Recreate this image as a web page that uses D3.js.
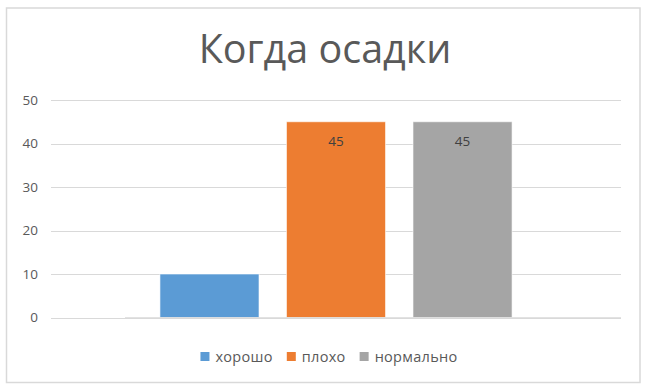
<!DOCTYPE html>
<html>
<head>
<meta charset="utf-8">
<script src="https://cdn.jsdelivr.net/npm/d3@7"></script>
<style>
  body { margin: 0; background: #fff; }
  text { font-family: "Open Sans", "Noto Sans", sans-serif; }
</style>
</head>
<body>
<div id="chart"></div>
<script>
// chart data
var title = "Когда осадки"
var seriesNames = ["хорошо", "плохо", "нормально"]
var seriesValues = [10, 45, 45]
var showLabel = [false, true, true]
var yTicks = [0, 10, 20, 30, 40, 50]
var colors = ["#5b9bd5", "#ed7d31", "#a5a5a5"]

var width = 650, height = 392
var plot = { left: 51, right: 621, top: 100, bottom: 317.5 }

var bars = seriesNames.map(function(name, i) {
  return { name: name, value: seriesValues[i], label: showLabel[i], color: colors[i] }
})

var svg = d3.select("#chart")
  .append("svg")
  .attr("width", width)
  .attr("height", height)

// chart frame
svg.append("rect")
  .attr("x", 6.5).attr("y", 8)
  .attr("width", 633.5).attr("height", 374.5)
  .attr("fill", "#fff")
  .attr("stroke", "#d9d9d9")
  .attr("stroke-width", 1.5)

var y = d3.scaleLinear()
  .domain([0, 50])
  .range([plot.bottom, plot.top])

var x = d3.scaleBand()
  .domain(seriesNames)
  .range([plot.left, plot.right])
  .paddingInner(0.217)
  .paddingOuter(0.861)

// gridlines
svg.append("g")
  .selectAll("line")
  .data(yTicks)
  .enter()
  .append("line")
  .attr("x1", plot.left)
  .attr("x2", plot.right)
  .attr("y1", function(d) { return Math.round(y(d)) + 0.5 })
  .attr("y2", function(d) { return Math.round(y(d)) + 0.5 })
  .attr("stroke", "#d9d9d9")
  .attr("stroke-width", 1)

// y axis labels
var yAxis = svg.append("g")
  .attr("transform", "translate(" + (plot.left - 13) + ",0)")
  .call(d3.axisLeft(y).tickValues(yTicks).tickSize(0).tickPadding(0))
yAxis.select(".domain").remove()
yAxis.selectAll("text")
  .attr("fill", "#595959")
  .style("font-size", "13.5px")

// bars
svg.append("g")
  .selectAll("rect")
  .data(bars)
  .enter()
  .append("rect")
  .attr("x", function(d) { return x(d.name) })
  .attr("y", function(d) { return y(d.value) })
  .attr("width", x.bandwidth())
  .attr("height", function(d) { return y(0) - y(d.value) })
  .attr("fill", function(d) { return d.color })
  .attr("stroke", "#fff")
  .attr("stroke-opacity", 0.6)
  .attr("stroke-width", 1)

// category axis line
svg.append("line")
  .attr("x1", 125)
  .attr("x2", plot.right)
  .attr("y1", y(0) + 0.5)
  .attr("y2", y(0) + 0.5)
  .attr("stroke", "#d9d9d9")
  .attr("stroke-width", 1.5)

// data labels
svg.append("g")
  .selectAll("text")
  .data(bars.filter(function(d) { return d.label }))
  .enter()
  .append("text")
  .attr("x", function(d) { return x(d.name) + x.bandwidth() / 2 })
  .attr("y", function(d) { return y(d.value) + 24 })
  .attr("text-anchor", "middle")
  .attr("fill", "#404040")
  .style("font-size", "13.5px")
  .text(function(d) { return d.value })

// title
svg.append("text")
  .attr("x", 325)
  .attr("y", 63)
  .attr("text-anchor", "middle")
  .attr("fill", "#595959")
  .style("font-size", "39.5px")
  .text(title)

// legend
var legend = svg.append("g")
var lx = 0
bars.forEach(function(d) {
  var item = legend.append("g").attr("transform", "translate(" + lx + ",0)")
  item.append("rect")
    .attr("x", 0).attr("y", 352)
    .attr("width", 9).attr("height", 9)
    .attr("fill", d.color)
  var t = item.append("text")
    .attr("x", 15).attr("y", 362)
    .attr("fill", "#595959")
    .style("font-size", "14.5px")
    .style("letter-spacing", "0.3px")
    .text(d.name)
  lx += 15 + t.node().getComputedTextLength() + 14
})
var legendWidth = lx - 14
legend.attr("transform", "translate(" + (329 - legendWidth / 2) + ",0)")
</script>
</body>
</html>
